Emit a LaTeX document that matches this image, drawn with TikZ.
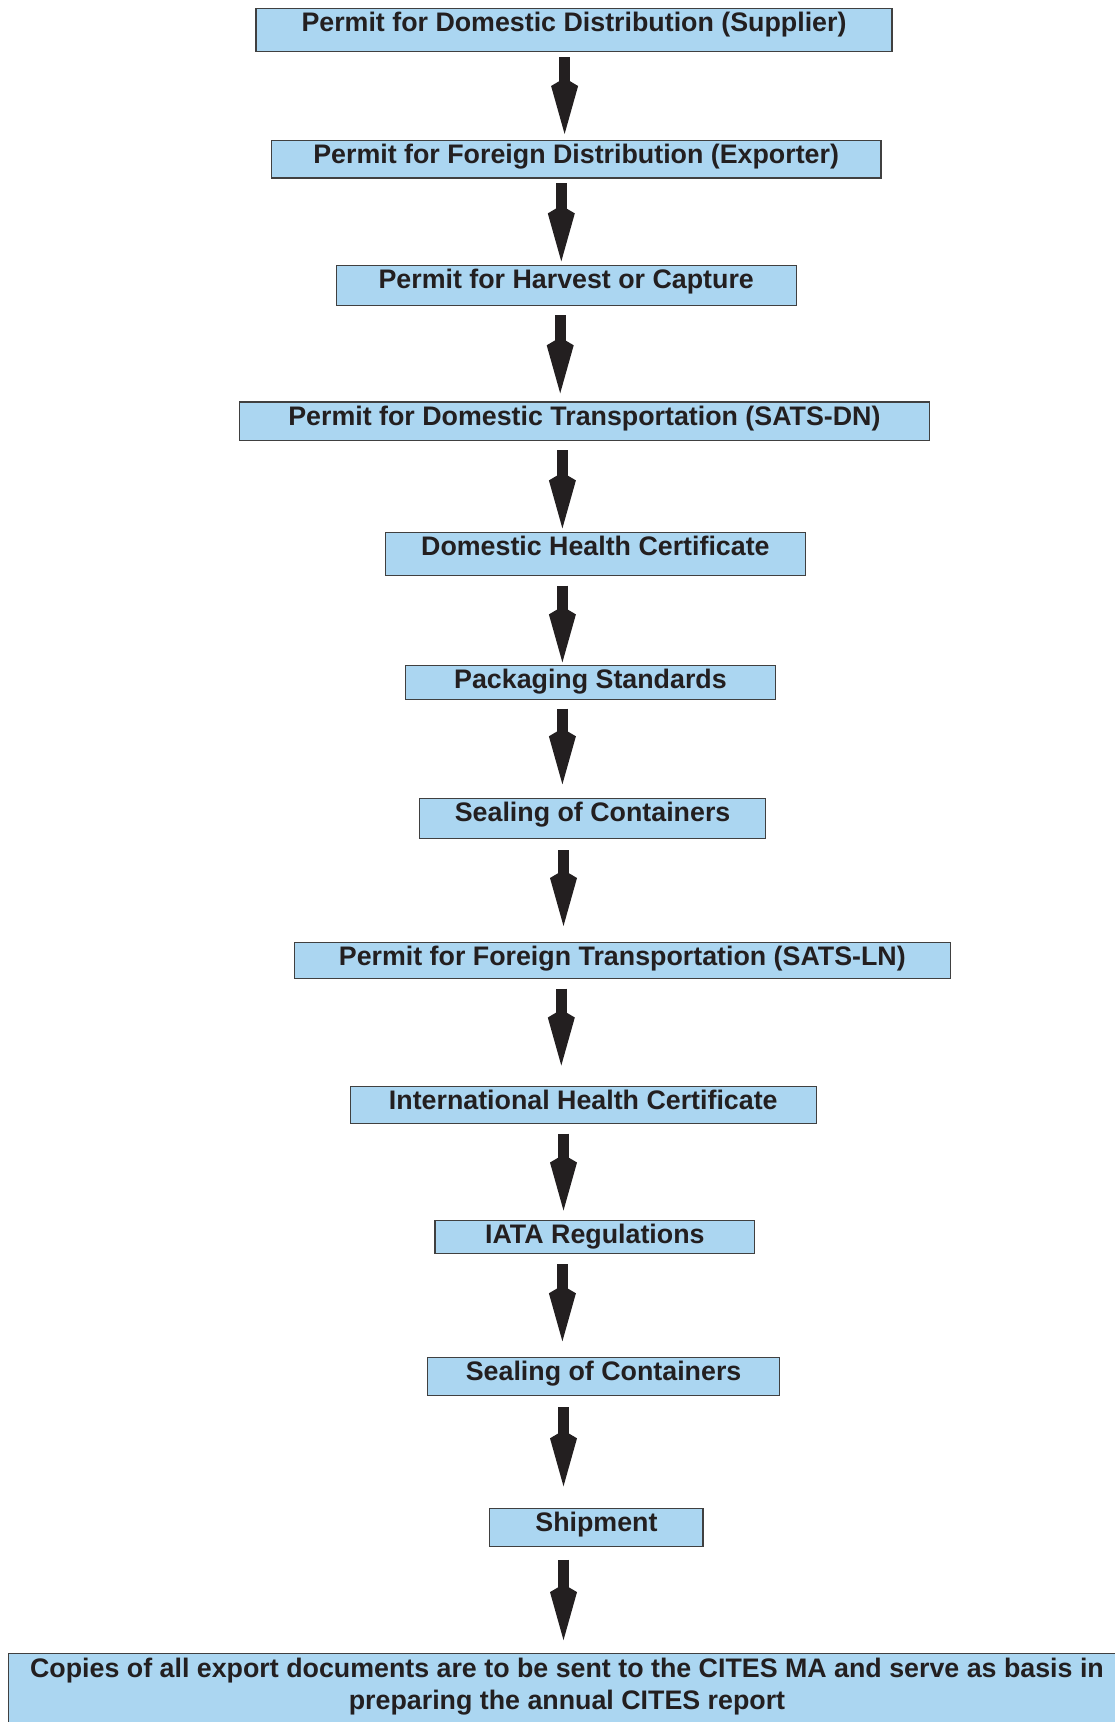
\documentclass[tikz,border=0pt]{standalone}
\usepackage{fontspec}
\setmainfont{Liberation Sans}
\usetikzlibrary{arrows.meta,calc}
\definecolor{boxfill}{RGB}{171,214,241}
\definecolor{ink}{HTML}{231F20}
\definecolor{edge}{HTML}{404040}
\tikzset{
  box/.style={draw=edge, line width=1.1pt, fill=boxfill, inner sep=0pt, outer sep=0pt,
    anchor=north west, text=ink, font=\fontsize{26.8}{32}\selectfont\bfseries, text height=23pt},
  arr/.style={draw=ink, line width=11pt, -{Kite[length=56pt,width=27pt,inset=8pt]}}
}
\begin{document}
\begin{tikzpicture}[x=1pt,y=-1pt]
\clip (0,0) rectangle (1115,1722);
\fill[white] (0,0) rectangle (1115,1722);
\node[box, minimum width=636.0pt, text depth=19.8pt] (b1) at (256.0,8.8) {Permit for Domestic Distribution (Supplier)};
\node[box, minimum width=609.7pt, text depth=14.4pt] (b2) at (271.3,140.6) {Permit for Foreign Distribution (Exporter)};
\node[box, minimum width=460.3pt, text depth=16.6pt] (b3) at (336.1,265.8) {Permit for Harvest or Capture};
\node[box, minimum width=689.8pt, text depth=15.5pt] (b4) at (239.5,402.0) {Permit for Domestic Transportation (SATS-DN)};
\node[box, minimum width=419.6pt, text depth=19.8pt] (b5) at (385.6,532.8) {Domestic Health Certificate};
\node[box, minimum width=370.1pt, text depth=11.0pt] (b6) at (405.4,665.7) {Packaging Standards};
\node[box, minimum width=346.0pt, text depth=16.6pt] (b7) at (419.6,798.6) {Sealing of Containers};
\node[box, minimum width=655.8pt, text depth=13.3pt] (b8) at (294.4,942.5) {Permit for Foreign Transportation (SATS-LN)};
\node[box, minimum width=465.8pt, text depth=14.4pt] (b9) at (350.4,1086.4) {International Health Certificate};
\node[box, minimum width=319.7pt, text depth=10.0pt] (b10) at (435.0,1220.4) {IATA Regulations};
\node[box, minimum width=352.6pt, text depth=14.4pt] (b11) at (427.3,1357.7) {Sealing of Containers};
\node[box, minimum width=213.1pt, text depth=15.5pt] (b12) at (489.9,1508.2) {Shipment};
\node[box, minimum width=1116.4pt, minimum height=80pt, text height=0pt] (b13) at (8.8,1653.2) {};
\node[text=ink, font=\fontsize{26.8}{32}\selectfont\bfseries, align=center, inner sep=0pt, anchor=north] (b13t) at ($(b13.north)+(0,4.8)$)
  {Copies of all export documents are to be sent to the CITES MA and serve as basis in\\ preparing the annual CITES report};
\coordinate (a1) at (564.6,0);
\coordinate (a2) at (561.3,0);
\coordinate (a3) at (560.2,0);
\coordinate (a4) at (562.4,0);
\coordinate (a5) at (563.5,0);
\draw[arr] ($(b1.south -| a1)+(0,5.4)$) -- ($(b2.north -| a1)+(0,-6.6)$);
\draw[arr] ($(b2.south -| a2)+(0,5.4)$) -- ($(b3.north -| a2)+(0,-4.4)$);
\draw[arr] ($(b3.south -| a3)+(0,9.9)$) -- ($(b4.north -| a3)+(0,-8.7)$);
\draw[arr] ($(b4.south -| a4)+(0,9.9)$) -- ($(b5.north -| a4)+(0,-4.4)$);
\draw[arr] ($(b5.south -| a4)+(0,9.9)$) -- ($(b6.north -| a4)+(0,-3.3)$);
\draw[arr] ($(b6.south -| a4)+(0,8.8)$) -- ($(b7.north -| a4)+(0,-14.3)$);
\draw[arr] ($(b7.south -| a5)+(0,12.0)$) -- ($(b8.north -| a5)+(0,-16.5)$);
\draw[arr] ($(b8.south -| a2)+(0,9.9)$) -- ($(b9.north -| a2)+(0,-20.9)$);
\draw[arr] ($(b9.south -| a5)+(0,9.9)$) -- ($(b10.north -| a5)+(0,-9.9)$);
\draw[arr] ($(b10.south -| a4)+(0,11.0)$) -- ($(b11.north -| a4)+(0,-16.4)$);
\draw[arr] ($(b11.south -| a5)+(0,12.1)$) -- ($(b12.north -| a5)+(0,-21.9)$);
\draw[arr] ($(b12.south -| a5)+(0,13.2)$) -- ($(b13.north -| a5)+(0,-13.1)$);
\end{tikzpicture}
\end{document}
